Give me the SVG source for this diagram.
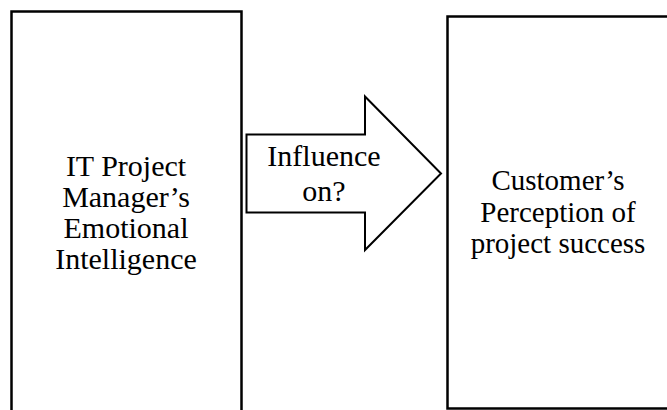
<svg xmlns="http://www.w3.org/2000/svg" width="667" height="410" viewBox="0 0 667 410">
<style>
.box{fill:#fff;stroke:#000;stroke-width:2.5}
.t{font-family:"Liberation Serif","Times New Roman",serif;font-size:30px;fill:#000;text-anchor:middle}
.r{font-size:29px}
</style>
<rect width="667" height="410" fill="#fff"/>
<g id="node-left">
<path class="box" d="M11.5,412 V11.5 H241.5 V412"/>
<text class="t" x="126" y="176">IT Project</text>
<text class="t" x="126" y="207">Manager’s</text>
<text class="t" x="126" y="238">Emotional</text>
<text class="t" x="126" y="269">Intelligence</text>
</g>
<g id="node-right">
<path class="box" d="M670,16.5 H447.5 V408.5 H670"/>
<text class="t r" x="558" y="190">Customer’s</text>
<text class="t r" x="558" y="222">Perception of</text>
<text class="t r" x="558" y="253">project success</text>
</g>
<g id="connectors">
<path d="M246.5,134.5 H365 V96.5 L441,173.5 L365,250 V212.5 H246.5 Z" fill="#fff" stroke="#000" stroke-width="2"/>
<text class="t" x="324" y="166">Influence</text>
<text class="t" x="324" y="201">on?</text>
</g>
</svg>
